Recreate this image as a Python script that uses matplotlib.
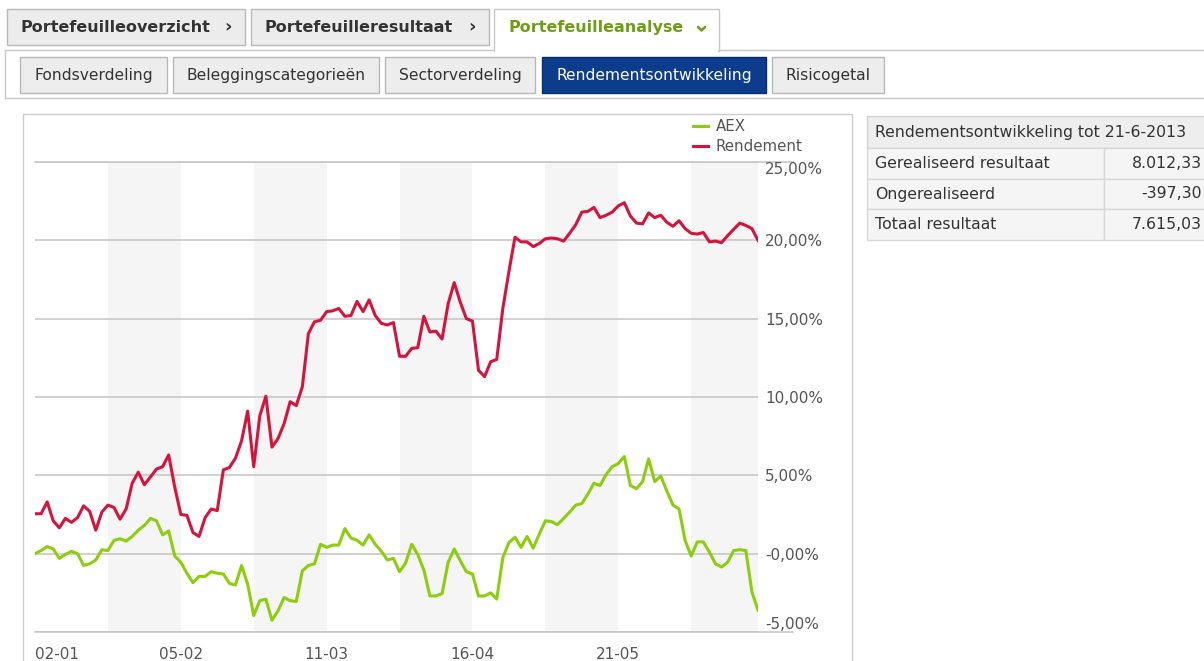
import matplotlib.pyplot as plt
from matplotlib.patches import Rectangle

W, H = 1204, 661

# x-as: handelsdagen, labels elke 24 dagen
date_labels = ['02-01', '05-02', '11-03', '16-04', '21-05']
date_pos = [0, 24, 48, 72, 96]

aex = [0.0, 0.2, 0.45, 0.3, -0.3, -0.05, 0.15, 0.0, -0.75, -0.65,
       -0.4, 0.25, 0.2, 0.85, 0.95, 0.8, 1.1, 1.5, 1.8, 2.25,
       2.1, 1.2, 1.45, -0.15, -0.55, -1.25, -1.85, -1.45, -1.45, -1.15,
       -1.25, -1.3, -1.9, -2.0, -0.75, -1.95, -3.95, -3.0, -2.9, -4.25,
       -3.65, -2.8, -3.0, -3.05, -1.1, -0.75, -0.65, 0.6, 0.4, 0.55,
       0.55, 1.6, 1.0, 0.85, 0.55, 1.2, 0.6, 0.15, -0.4, -0.3,
       -1.15, -0.6, 0.6, -0.05, -1.05, -2.7, -2.7, -2.55, -0.55, 0.3,
       -0.45, -1.15, -1.3, -2.7, -2.7, -2.5, -2.9, -0.25, 0.7, 1.05,
       0.4, 1.1, 0.35, 1.25, 2.1, 2.05, 1.85, 2.25, 2.65, 3.1,
       3.2, 3.8, 4.5, 4.35, 5.05, 5.55, 5.75, 6.2, 4.35, 4.15,
       4.6, 6.05, 4.6, 4.95, 4.0, 3.1, 2.85, 0.85, -0.15, 0.75,
       0.75, 0.1, -0.65, -0.85, -0.55, 0.2, 0.25, 0.2, -2.45, -3.6]

rendement = [2.55, 2.55, 3.3, 2.1, 1.65, 2.25, 2.0, 2.3, 3.05, 2.7,
             1.5, 2.65, 3.1, 2.95, 2.2, 2.85, 4.5, 5.2, 4.4, 4.9,
             5.4, 5.55, 6.3, 4.25, 2.5, 2.45, 1.35, 1.1, 2.3, 2.85,
             2.75, 5.35, 5.5, 6.1, 7.2, 9.1, 5.55, 8.8, 10.05, 6.8,
             7.35, 8.3, 9.7, 9.45, 10.65, 14.05, 14.8, 14.9, 15.45, 15.5,
             15.65, 15.15, 15.2, 16.1, 15.45, 16.2, 15.2, 14.7, 14.6, 14.75,
             12.6, 12.6, 13.1, 13.15, 15.15, 14.15, 14.2, 13.7, 15.95, 17.3,
             16.05, 15.0, 14.85, 11.7, 11.3, 12.25, 12.4, 15.65, 18.0, 20.2,
             19.9, 19.9, 19.6, 19.8, 20.1, 20.15, 20.1, 19.95, 20.45, 21.0,
             21.8, 21.85, 22.1, 21.45, 21.6, 21.8, 22.2, 22.4, 21.55, 21.1,
             21.05, 21.75, 21.45, 21.6, 21.15, 20.9, 21.25, 20.75, 20.45, 20.4,
             20.5, 19.9, 19.95, 19.85, 20.3, 20.7, 21.1, 20.95, 20.75, 20.0]

y_ticks = [-5, 0, 5, 10, 15, 20, 25]
y_labels = ['-5,00%', '-0,00%', '5,00%', '10,00%', '15,00%', '20,00%', '25,00%']

main_tabs = ['Portefeuilleoverzicht', 'Portefeuilleresultaat', 'Portefeuilleanalyse']
sub_tabs = ['Fondsverdeling', 'Beleggingscategorieën', 'Sectorverdeling',
            'Rendementsontwikkeling', 'Risicogetal']

table_title = 'Rendementsontwikkeling tot 21-6-2013'
table_rows = ['Gerealiseerd resultaat', 'Ongerealiseerd', 'Totaal resultaat']
table_values = ['8.012,33', '-397,30', '7.615,03']

RED = '#d7133b'
GREEN = '#8cce0c'
GRID = '#c4c4c4'
TXT = '#333333'

plt.rcParams['font.family'] = ['DejaVu Sans']

fig = plt.figure(figsize=(W / 100, H / 100), dpi=100)
fig.patch.set_facecolor('white')

# achtergrond in pixelcoordinaten voor de UI-elementen
bg = fig.add_axes([0, 0, 1, 1])
bg.set_xlim(0, W)
bg.set_ylim(H, 0)
bg.axis('off')


def box(x0, y0, x1, y1, fc, ec, lw=1.0, z=1):
    bg.add_patch(Rectangle((x0, y0), x1 - x0, y1 - y0, facecolor=fc,
                           edgecolor=ec, linewidth=lw, zorder=z))


def hline(y, x0, x1, c='#c8c8c8'):
    bg.plot([x0, x1], [y, y], color=c, lw=1.0, zorder=2)


# hoofdtabs
tab_x = [(7, 245), (251, 489), (494, 719)]
for i, (name, (x0, x1)) in enumerate(zip(main_tabs, tab_x)):
    if i < 2:
        box(x0, 9, x1, 45, '#ececec', '#b8b8b8')
        bg.text(x0 + 13, 27.5, name, fontsize=11.5, fontweight='bold',
                color=TXT, va='center', ha='left', zorder=3)
        bg.text(x1 - 17, 27.5, '›', fontsize=13, fontweight='bold',
                color=TXT, va='center', ha='center', zorder=3)
    else:
        box(x0, 9, x1, 51, 'white', '#c8c8c8', z=3)
        bg.add_patch(Rectangle((x0 + 0.8, 48), x1 - x0 - 1.6, 5,
                               facecolor='white', edgecolor='none', zorder=4))
        bg.text(x0 + 14, 27.5, name, fontsize=11.5, fontweight='bold',
                color='#6e9e14', va='center', ha='left', zorder=4)
        bg.plot([698, 701.5, 705], [27, 30.5, 27], color='#6e9e14', lw=1.8,
                solid_capstyle='round', solid_joinstyle='round', zorder=4)

hline(50, 5, 494)
hline(50, 719, W)
bg.plot([5, 5], [50, 98], color='#c8c8c8', lw=1.0, zorder=2)
hline(98, 5, W)

# subtabs
sub_x = [(20, 167), (173, 379), (385, 535), (542, 766), (772, 884)]
for name, (x0, x1) in zip(sub_tabs, sub_x):
    active = name == 'Rendementsontwikkeling'
    fc = '#0c3d8c' if active else '#ededed'
    ec = '#0a2e6b' if active else '#b8b8b8'
    box(x0, 57, x1, 93, fc, ec)
    bg.text((x0 + x1) / 2, 75.5, name, fontsize=11.2,
            color='white' if active else TXT, va='center', ha='center', zorder=3)

# grafiekpaneel
box(23, 114, 852, H + 5, 'white', '#cccccc')

# tabel rechts
box(867, 116, W + 2, 148, '#eeeeee', '#d2d2d2')
bg.text(875, 132, table_title, fontsize=11.3, color=TXT, va='center', ha='left', zorder=3)
for k, (lab, val) in enumerate(zip(table_rows, table_values)):
    y0 = 148 + 30.5 * k
    box(867, y0, 1104, y0 + 30.5, '#f5f5f5', '#d8d8d8')
    box(1104, y0, W + 2, y0 + 30.5, '#f5f5f5', '#d8d8d8')
    bg.text(875, y0 + 15.5, lab, fontsize=11.3, color=TXT, va='center', ha='left', zorder=3)
    bg.text(1202, y0 + 15.5, val, fontsize=11.3, color=TXT, va='center', ha='right', zorder=3)

# de grafiek zelf
ax_l, ax_r, ax_t, ax_b = 35, 758, 162, 632
ax = fig.add_axes([ax_l / W, 1 - ax_b / H, (ax_r - ax_l) / W, (ax_b - ax_t) / H])
ax.set_facecolor('none')

n = len(aex)
days = list(range(n))
ax.set_xlim(0, n - 1)
ax.set_ylim(-5, 25)

for s in range(12, n, 24):
    ax.axvspan(s, min(s + 12, n - 1), color='#f5f5f5', lw=0, zorder=0)

ax.set_yticks(y_ticks)
ax.set_yticklabels(y_labels)
ax.yaxis.tick_right()
ax.grid(axis='y', color=GRID, lw=1.1, zorder=1)
ext = (793 - ax_l) / (ax_r - ax_l)
for yv in (y_ticks[0], y_ticks[-1]):
    ax.axhline(yv, xmin=0, xmax=ext, color=GRID, lw=1.1, clip_on=False, zorder=1)

ax.plot(days, aex, color=GREEN, lw=2.2, label='AEX', zorder=3,
        solid_joinstyle='round')
ax.plot(days, rendement, color=RED, lw=2.2, label='Rendement', zorder=3,
        solid_joinstyle='round')

ax.set_xticks(date_pos)
ax.set_xticklabels(date_labels)
ax.tick_params(axis='both', length=0, labelsize=11, labelcolor='#555555')
ax.tick_params(axis='y', pad=5)
ax.tick_params(axis='x', pad=11)
xl = ax.get_xticklabels()
xl[0].set_ha('left')
yl = ax.get_yticklabels()
yl[0].set_va('bottom')
yl[-1].set_va('top')

for sp in ax.spines.values():
    sp.set_visible(False)

ax.legend(loc='upper left',
          bbox_to_anchor=((693 - ax_l) / (ax_r - ax_l), (ax_b - 119) / (ax_b - ax_t)),
          frameon=False, handlelength=1.0, handletextpad=0.5,
          labelspacing=0.35, borderpad=0, borderaxespad=0,
          fontsize=10.8, labelcolor='#555555')

fig.savefig('out.png', dpi=100, facecolor='white')
